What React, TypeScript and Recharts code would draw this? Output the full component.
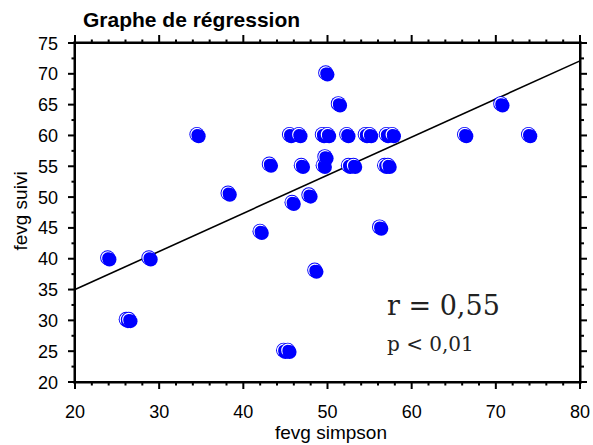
import React from 'react';
import { ScatterChart, Scatter, XAxis, YAxis, ReferenceLine } from 'recharts';

const simpsonX = [24.0, 26.2, 26.5, 28.9, 34.6, 38.3, 42.1, 43.2, 44.9, 45.4, 45.6, 45.9, 46.7, 47.0, 47.9, 48.6, 49.6, 49.8, 49.5, 50.1, 49.9, 51.4, 52.4, 52.6, 53.2, 54.6, 55.1, 56.3, 56.9, 57.3, 57.1, 57.8, 66.4, 70.7, 74.0];
const suiviY = [40, 30, 30, 40, 60, 50.5, 44.3, 55.2, 25, 25, 60, 49, 60, 55, 50.2, 38, 55, 56.4, 60, 60, 70, 65, 60, 55, 55, 60, 60, 45, 55, 55, 60, 60, 60, 65, 60];

const regX = [20, 80];
const regY = [35.0, 72.1];

const xTicks = [20, 22, 24, 26, 28, 30, 32, 34, 36, 38, 40, 42, 44, 46, 48, 50, 52, 54, 56, 58, 60, 62, 64, 66, 68, 70, 72, 74, 76, 78, 80];
const xMajor = [20, 30, 40, 50, 60, 70, 80];
const yTicks = [20, 22.5, 25, 27.5, 30, 32.5, 35, 37.5, 40, 42.5, 45, 47.5, 50, 52.5, 55, 57.5, 60, 62.5, 65, 67.5, 70, 72.5, 75];
const yMajor = [20, 25, 30, 35, 40, 45, 50, 55, 60, 65, 70, 75];

const title = 'Graphe de régression';
const xLabel = 'fevg simpson';
const yLabel = 'fevg suivi';
const rText = 'r = 0,55';
const pText = 'p < 0,01';

const points = simpsonX.map((x, i) => ({ x, y: suiviY[i] }));

const SANS = '"Liberation Sans", Arial, sans-serif';
const SERIF = '"DejaVu Serif", serif';
const BLUE = '#0000ff';

const CHART_W = 593;
const CHART_H = 445;
const M_TOP = 43;
const M_RIGHT = 13;
const Y_AXIS_W = 75;
const X_AXIS_H = 63;
const PLOT_W = CHART_W - M_RIGHT - Y_AXIS_W;
const PLOT_H = CHART_H - M_TOP - X_AXIS_H;

const Dot = (props: any) => {
  const { cx, cy } = props;
  if (cx == null || cy == null) return <g />;
  return (
    <g>
      <circle cx={cx - 1} cy={cy - 1} r={7.5} fill={BLUE} />
      <circle cx={cx - 1} cy={cy - 1} r={6} fill="none" stroke="#ffffff" strokeWidth={1.2} />
      <circle cx={cx + 0.8} cy={cy + 0.8} r={7} fill={BLUE} />
    </g>
  );
};

const BottomTick = (props: any) => {
  const { x, y, payload } = props;
  const major = xMajor.includes(payload.value);
  const lenB = major ? 7 : 3.5;
  const lenT = major ? 8 : 3.5;
  return (
    <g>
      <rect x={x - 1} y={y} width={2} height={lenB} fill="#000" />
      <rect x={x - 1} y={y - PLOT_H - lenT} width={2} height={lenT} fill="#000" />
      {major && (
        <text x={x} y={y + 36} textAnchor="middle" fontFamily={SANS} fontSize={18} fill="#000">
          {payload.value}
        </text>
      )}
    </g>
  );
};

const LeftTick = (props: any) => {
  const { x, y, payload } = props;
  const major = yMajor.includes(payload.value);
  const lenL = major ? 7 : 3.5;
  const lenR = major ? 7 : 4;
  return (
    <g>
      <rect x={x - lenL} y={y - 1} width={lenL} height={2} fill="#000" />
      <rect x={x + PLOT_W} y={y - 1} width={lenR} height={2} fill="#000" />
      {major && (
        <text x={x - 17} y={y + 6.5} textAnchor="end" fontFamily={SANS} fontSize={18} fill="#000">
          {payload.value}
        </text>
      )}
    </g>
  );
};

export default function App() {
  const L = Y_AXIS_W;
  const T = M_TOP;
  return (
    <div style={{ position: 'absolute', left: 0, top: 0, width: CHART_W, height: CHART_H, background: '#fff' }}>
      <ScatterChart width={CHART_W} height={CHART_H} margin={{ top: M_TOP, right: M_RIGHT, bottom: 0, left: 0 }}>
        <XAxis
          type="number"
          dataKey="x"
          domain={[20, 80]}
          ticks={xTicks}
          interval={0}
          height={X_AXIS_H}
          tickSize={0}
          tickMargin={0}
          tickLine={false}
          axisLine={false}
          tick={<BottomTick />}
          allowDataOverflow
        />
        <YAxis
          type="number"
          dataKey="y"
          domain={[20, 75]}
          ticks={yTicks}
          interval={0}
          width={Y_AXIS_W}
          tickSize={0}
          tickMargin={0}
          tickLine={false}
          axisLine={false}
          tick={<LeftTick />}
          allowDataOverflow
        />
        <ReferenceLine
          segment={[{ x: regX[0], y: regY[0] }, { x: regX[1], y: regY[1] }]}
          stroke="#000"
          strokeWidth={1.6}
          ifOverflow="visible"
        />
        <Scatter data={points} dataKey="y" shape={Dot} isAnimationActive={false} />
      </ScatterChart>
      <svg
        width={CHART_W}
        height={CHART_H}
        style={{ position: 'absolute', left: 0, top: 0, pointerEvents: 'none' }}
      >
        <rect x={L - 1.5} y={T - 1.5} width={2.5} height={PLOT_H + 3} fill="#000" />
        <rect x={L + PLOT_W - 1} y={T - 1.5} width={2.5} height={PLOT_H + 3} fill="#000" />
        <rect x={L - 1.5} y={T - 1.5} width={PLOT_W + 3} height={2.5} fill="#000" />
        <rect x={L - 1.5} y={T + PLOT_H - 1} width={PLOT_W + 3} height={2.5} fill="#000" />
        <text x={83} y={26.5} fontFamily={SANS} fontWeight="bold" fontSize={21} fill="#000">
          {title}
        </text>
        <text x={331} y={439} textAnchor="middle" fontFamily={SANS} fontSize={19} fill="#000">
          {xLabel}
        </text>
        <text
          x={26.5}
          y={211}
          textAnchor="middle"
          transform="rotate(-90 26.5 211)"
          fontFamily={SANS}
          fontSize={19}
          fill="#000"
        >
          {yLabel}
        </text>
        <text x={387} y={315} fontFamily={SERIF} fontSize={27} fill="#222">
          {rText}
        </text>
        <text x={387} y={351} fontFamily={SERIF} fontSize={20} fill="#222">
          {pText}
        </text>
      </svg>
    </div>
  );
}
